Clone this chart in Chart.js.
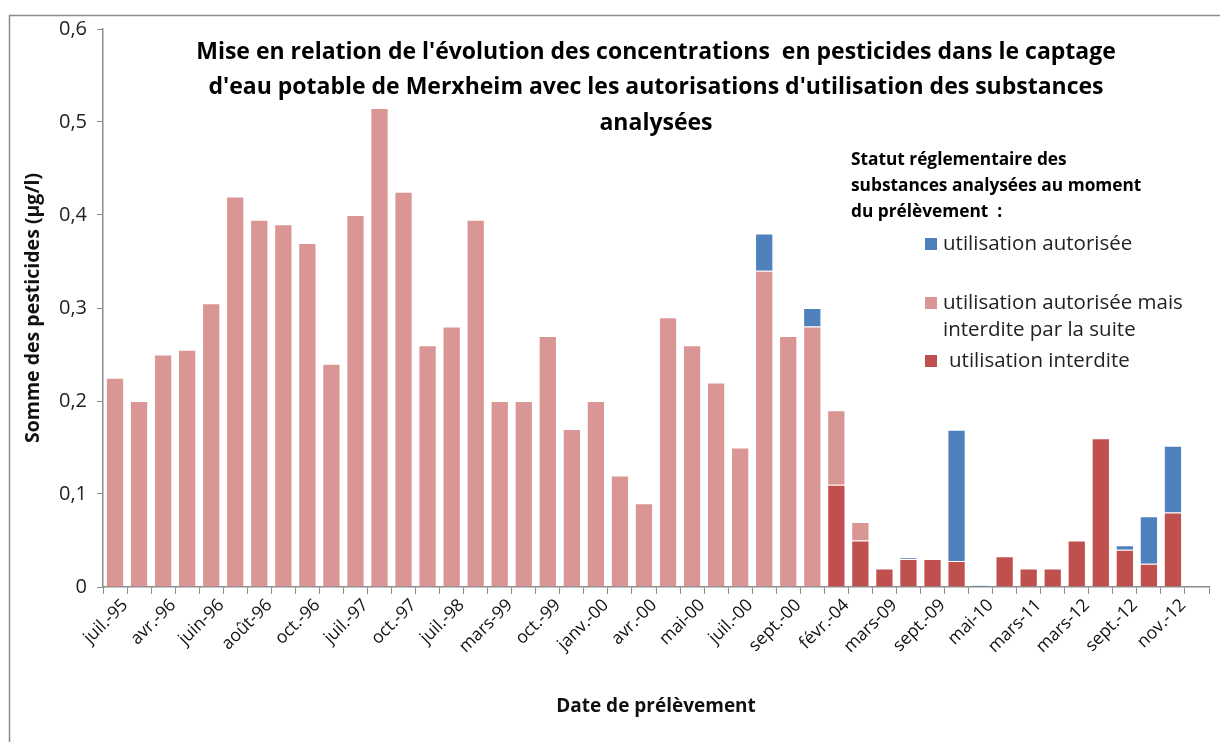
<!DOCTYPE html>
<html>
<head>
<meta charset="utf-8">
<script src="https://cdn.jsdelivr.net/npm/chart.js@4"></script>
<style>
  html, body { margin: 0; padding: 0; background: #fff; }
  #wrap { width: 1220px; height: 742px; position: relative; }
</style>
</head>
<body>
<div id="wrap"><canvas id="pestChart" width="1220" height="742"></canvas></div>
<script>
// one entry per sample, only every other one is labelled on the axis
const dates = [
  'juil.-95', '', 'avr.-96', '', 'juin-96', '', 'août-96', '', 'oct.-96', '',
  'juil.-97', '', 'oct.-97', '', 'juil.-98', '', 'mars-99', '', 'oct.-99', '',
  'janv.-00', '', 'avr.-00', '', 'mai-00', '', 'juil.-00', '', 'sept.-00', '',
  'févr.-04', '', 'mars-09', '', 'sept.-09', '', 'mai-10', '', 'mars-11', '',
  'mars-12', '', 'sept.-12', '', 'nov.-12', ''
];

// utilisation interdite
const interdite = [
  0, 0, 0, 0, 0, 0, 0, 0, 0, 0,
  0, 0, 0, 0, 0, 0, 0, 0, 0, 0,
  0, 0, 0, 0, 0, 0, 0, 0, 0, 0,
  0.11, 0.05, 0.02, 0.03, 0.03, 0.028, 0, 0.033, 0.02, 0.02,
  0.05, 0.16, 0.04, 0.025, 0.08, 0
];

// utilisation autorisée mais interdite par la suite
const autoriseeInterdite = [
  0.225, 0.2, 0.25, 0.255, 0.305, 0.42, 0.395, 0.39, 0.37, 0.24,
  0.4, 0.515, 0.425, 0.26, 0.28, 0.395, 0.2, 0.2, 0.27, 0.17,
  0.2, 0.12, 0.09, 0.29, 0.26, 0.22, 0.15, 0.34, 0.27, 0.28,
  0.08, 0.02, 0, 0, 0, 0, 0, 0, 0, 0,
  0, 0, 0, 0, 0, 0
];

// utilisation autorisée
const autorisee = [
  0, 0, 0, 0, 0, 0, 0, 0, 0, 0,
  0, 0, 0, 0, 0, 0, 0, 0, 0, 0,
  0, 0, 0, 0, 0, 0, 0, 0.04, 0, 0.02,
  0, 0, 0, 0.002, 0, 0.141, 0.002, 0, 0, 0,
  0, 0, 0.005, 0.051, 0.072, 0
];

const yTicks = [0, 0.1, 0.2, 0.3, 0.4, 0.5, 0.6];

const titleLines = [
  "Mise en relation de l'évolution des concentrations  en pesticides dans le captage",
  "d'eau potable de Merxheim avec les autorisations d'utilisation des substances",
  "analysées"
];
const legendTitle = [
  'Statut réglementaire des',
  'substances analysées au moment',
  'du prélèvement  :'
];

const FONT = "'Open Sans', 'Noto Sans', sans-serif";

// outer frame + title + legend drawn on the canvas
const decorPlugin = {
  id: 'decor',
  beforeDraw(chart) {
    const c = chart.ctx;
    c.save();
    c.fillStyle = '#fff';
    c.fillRect(0, 0, chart.width, chart.height);
    c.strokeStyle = '#8c8c8c';
    c.lineWidth = 1.5;
    c.strokeRect(9.5, 15.5, chart.width + 20, chart.height + 20);
    c.restore();
  },
  afterDatasetsDraw(chart) {
    const c = chart.ctx;
    const area = chart.chartArea;
    c.save();
    c.fillStyle = '#000';
    c.textAlign = 'center';
    c.textBaseline = 'middle';
    c.font = "bold 23px " + FONT;
    const cx = (area.left + area.right) / 2;
    titleLines.forEach(function (line, i) {
      c.fillText(line, cx, 52 + i * 35.5);
    });

    c.textAlign = 'left';
    c.font = "bold 17.3px " + FONT;
    legendTitle.forEach(function (line, i) {
      c.fillText(line, 851, 160 + i * 26);
    });

    // legend entries: blue, pink, red (top to bottom)
    const items = [
      { ds: 2, lines: ['utilisation autorisée'], y: 244, dx: 0 },
      { ds: 1, lines: ['utilisation autorisée mais', 'interdite par la suite'], y: 303, dx: 0 },
      { ds: 0, lines: ['utilisation interdite'], y: 361, dx: 6 }
    ];
    c.font = "20.5px " + FONT;
    items.forEach(function (it) {
      const ds = chart.data.datasets[it.ds];
      c.fillStyle = ds.backgroundColor;
      c.fillRect(925, it.y - 6, 12, 12);
      c.fillStyle = '#222';
      it.lines.forEach(function (line, j) {
        c.fillText(line, 943 + it.dx, it.y + j * 27);
      });
    });
    c.restore();
  }
};

const ctx = document.getElementById('pestChart').getContext('2d');
const pestChart = new Chart(ctx, {
  type: 'bar',
  data: {
    labels: dates,
    datasets: [
      {
        label: 'utilisation interdite',
        data: interdite,
        backgroundColor: '#C0504D',
        borderColor: 'rgba(255,255,255,0.45)',
        borderWidth: 1
      },
      {
        label: 'utilisation autorisée mais interdite par la suite',
        data: autoriseeInterdite,
        backgroundColor: '#D99694',
        borderColor: 'rgba(255,255,255,0.45)',
        borderWidth: 1
      },
      {
        label: 'utilisation autorisée',
        data: autorisee,
        backgroundColor: '#4F81BD',
        borderColor: 'rgba(255,255,255,0.45)',
        borderWidth: 1
      }
    ]
  },
  options: {
    responsive: false,
    animation: false,
    layout: { padding: { left: 22, right: 11, top: 29, bottom: 24 } },
    datasets: {
      bar: { barPercentage: 0.76, categoryPercentage: 1.0 }
    },
    plugins: {
      legend: { display: false },
      title: { display: false },
      tooltip: { enabled: false }
    },
    scales: {
      x: {
        stacked: true,
        grid: {
          display: true,
          drawOnChartArea: false,
          drawTicks: true,
          tickLength: 7,
          color: '#8c8c8c',
          offset: true
        },
        border: { color: '#8c8c8c', width: 1.5 },
        ticks: {
          autoSkip: false,
          maxRotation: 45,
          minRotation: 45,
          labelOffset: 10,
          color: '#111',
          font: { family: FONT, size: 17.5 },
          padding: 1
        },
        title: {
          display: true,
          text: 'Date de prélèvement',
          color: '#111',
          font: { family: FONT, size: 19, weight: 'bold' },
          padding: { top: 0, bottom: 0 }
        },
        afterFit(scale) { scale.height = 742 - 589 - 22; }
      },
      y: {
        stacked: true,
        min: 0,
        max: 0.6,
        afterBuildTicks(scale) {
          scale.ticks = yTicks.map(function (v) { return { value: v }; });
        },
        grid: {
          display: true,
          drawOnChartArea: false,
          drawTicks: true,
          tickLength: 6,
          color: '#8c8c8c'
        },
        border: { color: '#8c8c8c', width: 1.5 },
        ticks: {
          color: '#222',
          font: { family: FONT, size: 20 },
          padding: 10,
          callback: function (v) { return String(v).replace('.', ','); }
        },
        title: {
          display: true,
          text: 'Somme des pesticides (µg/l)',
          color: '#111',
          font: { family: FONT, size: 19.5, weight: 'bold' },
          padding: { top: 0, bottom: 0 }
        },
        afterFit(scale) { scale.width = 103 - 22; }
      }
    }
  },
  plugins: [decorPlugin]
});
</script>
</body>
</html>
